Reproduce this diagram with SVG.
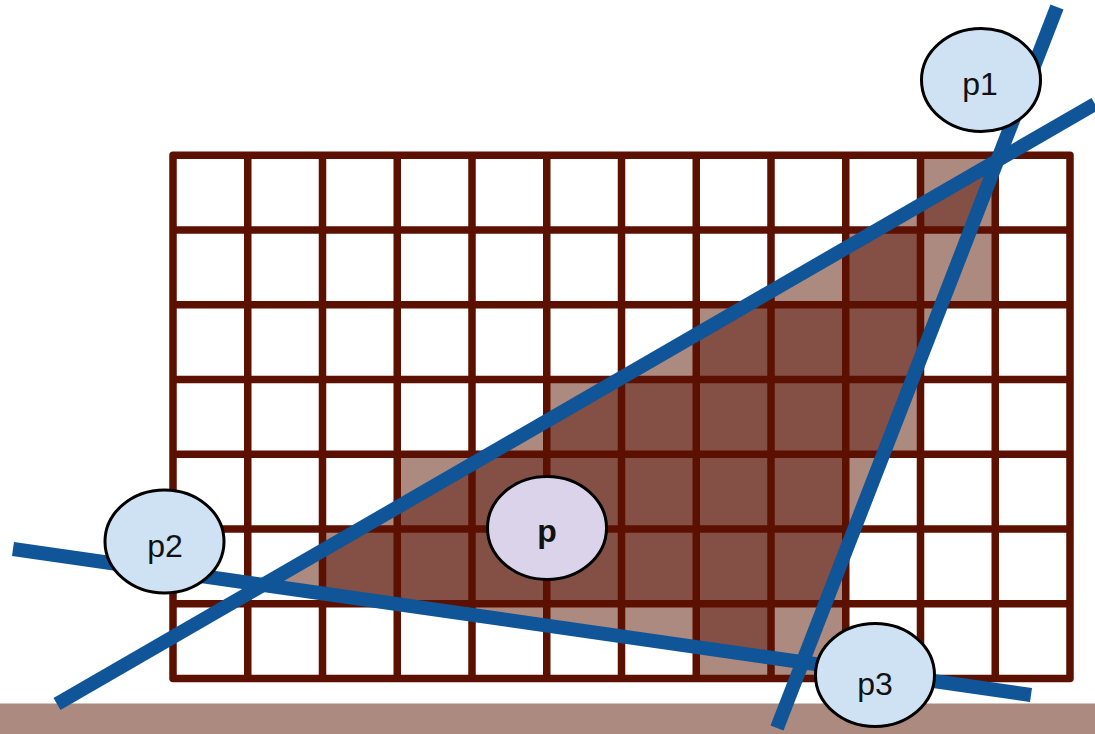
<svg xmlns="http://www.w3.org/2000/svg" width="1095" height="734" viewBox="0 0 1095 734">
  <style>
    .light { fill: #ad8a80; }
    .dark { fill: #844f44; }
    .grid { fill: none; stroke: #5c1000; stroke-width: 7.5; stroke-linejoin: round; stroke-linecap: butt; }
    .edge { stroke: #0f5597; stroke-width: 14; stroke-linecap: butt; fill: none; }
    .node { stroke: #000; stroke-width: 3; }
    .vert { fill: #cfe2f3; }
    .pt { fill: #dbd3e9; }
    .lbl { font-family: "Liberation Sans", Arial, sans-serif; font-size: 32px; fill: #111; text-anchor: middle; }
  </style>
  <defs>
    <clipPath id="covered">
      <rect x="920.5" y="155.25" width="74.75" height="74.75"/>
      <rect x="845.75" y="230" width="74.75" height="74.75"/>
      <rect x="696.25" y="304.75" width="224.25" height="74.75"/>
      <rect x="546.75" y="379.5" width="373.75" height="74.75"/>
      <rect x="397.25" y="454.25" width="448.5" height="74.75"/>
      <rect x="322.5" y="529" width="523.25" height="74.75"/>
      <rect x="696.25" y="603.75" width="74.75" height="74.75"/>
    </clipPath>
  </defs>
  <rect id="ground" x="0" y="703.5" width="1095" height="31" class="light"/>
  <g id="raster">
    <polygon class="light" points="997.4,160.4 263.1,584.9 802.5,662.2"/>
    <g class="light">
      <rect x="920.5" y="155.25" width="74.75" height="74.75"/>
      <rect x="845.75" y="230" width="149.5" height="74.75"/>
      <rect x="696.25" y="304.75" width="224.25" height="74.75"/>
      <rect x="546.75" y="379.5" width="373.75" height="74.75"/>
      <rect x="397.25" y="454.25" width="448.5" height="74.75"/>
      <rect x="322.5" y="529" width="523.25" height="74.75"/>
      <rect x="696.25" y="603.75" width="149.5" height="74.75"/>
    </g>
    <polygon class="dark" clip-path="url(#covered)" points="997.4,160.4 263.1,584.9 802.5,662.2"/>
  </g>
  <g id="grid">
    <rect class="grid" x="173" y="155.25" width="897" height="523.25"/>
    <path class="grid" d="M247.75,155.25V678.5 M322.5,155.25V678.5 M397.25,155.25V678.5 M472,155.25V678.5 M546.75,155.25V678.5 M621.5,155.25V678.5 M696.25,155.25V678.5 M771,155.25V678.5 M845.75,155.25V678.5 M920.5,155.25V678.5 M995.25,155.25V678.5 M173,230H1070 M173,304.75H1070 M173,379.5H1070 M173,454.25H1070 M173,529H1070 M173,603.75H1070"/>
  </g>
  <g id="connectors">
    <line class="edge" x1="57" y1="704" x2="1095" y2="104"/>
    <line class="edge" x1="13" y1="549" x2="1031" y2="695"/>
    <line class="edge" x1="1057" y1="7" x2="777" y2="728"/>
  </g>
  <g id="p1">
    <ellipse class="node vert" cx="981" cy="80" rx="59.5" ry="51.5"/>
    <text class="lbl" x="980" y="95">p1</text>
  </g>
  <g id="p2">
    <ellipse class="node vert" cx="164.5" cy="541.5" rx="59.5" ry="51.5"/>
    <text class="lbl" x="165" y="557">p2</text>
  </g>
  <g id="p3">
    <ellipse class="node vert" cx="875" cy="675" rx="59.5" ry="51.5"/>
    <text class="lbl" x="875" y="695">p3</text>
  </g>
  <g id="p">
    <ellipse class="node pt" cx="547" cy="528" rx="59.5" ry="51.5"/>
    <text class="lbl" x="547" y="542" font-weight="bold">p</text>
  </g>
</svg>
